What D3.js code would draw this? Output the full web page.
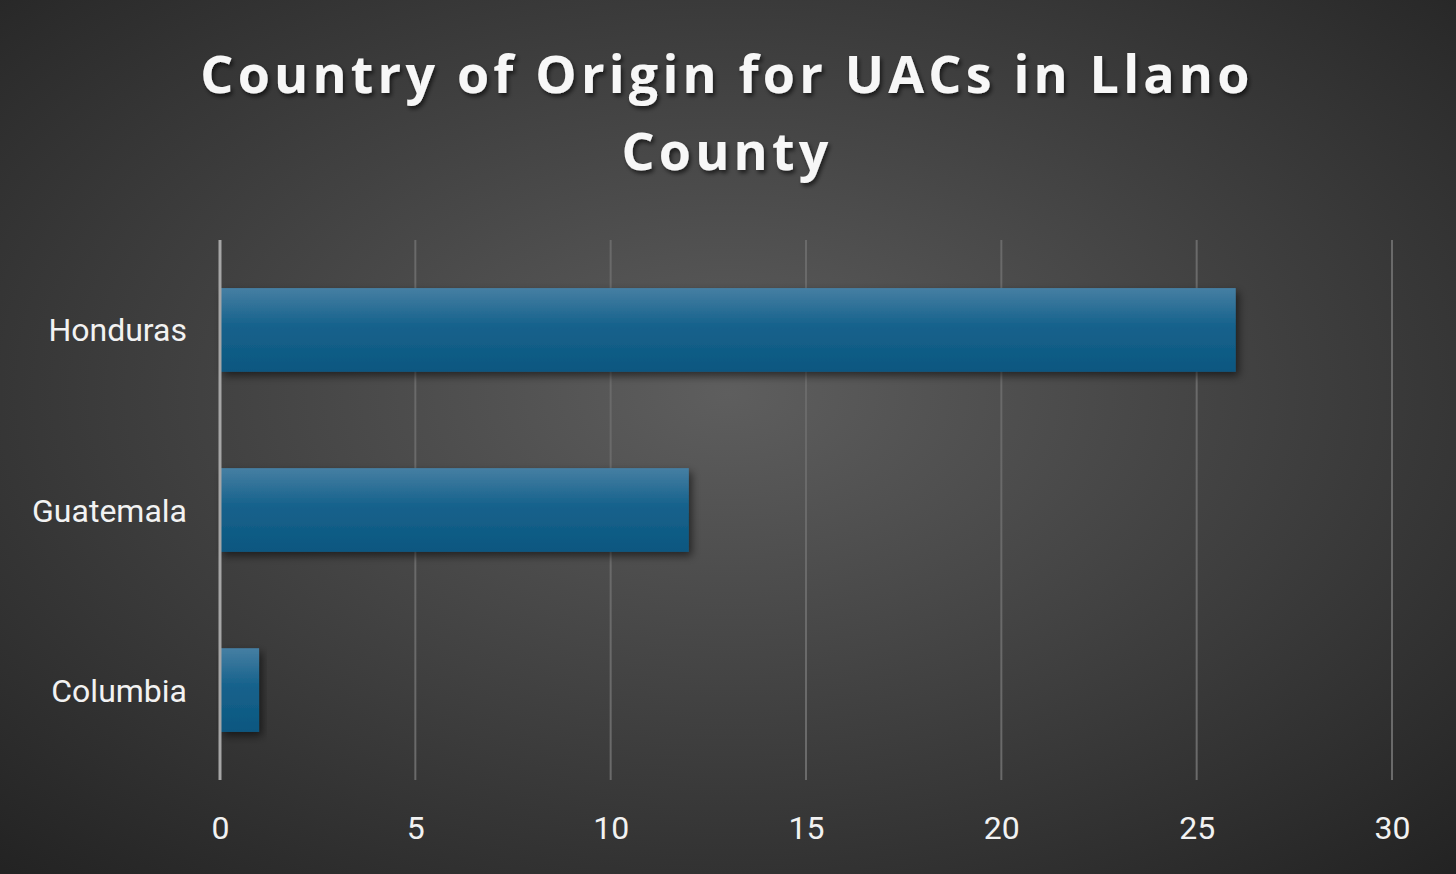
<!DOCTYPE html>
<html><head><meta charset="utf-8">
<script src="https://cdn.jsdelivr.net/npm/d3@7"></script>
<style>html,body{margin:0;padding:0;background:#333;}svg{display:block;}</style>
</head><body>
<script>
const categories = ["Honduras", "Guatemala", "Columbia"];
const values = [26, 12, 1];
const xTicks = [0, 5, 10, 15, 20, 25, 30];
const titleLines = ["Country of Origin for UACs in Llano", "County"];

const W = 1456, H = 874;
const svg = d3.select("body").append("svg").attr("width", W).attr("height", H);
const defs = svg.append("defs");
const rg = defs.append("radialGradient").attr("id","bg").attr("cx","50%").attr("cy","45%").attr("r","75%");
rg.append("stop").attr("offset","0%").attr("stop-color","#5e5e5e");
rg.append("stop").attr("offset","100%").attr("stop-color","#222");
const bg = defs.append("linearGradient").attr("id","bar").attr("x1",0).attr("x2",0).attr("y1",0).attr("y2",1);
bg.append("stop").attr("offset","0%").attr("stop-color","#467fa3");
bg.append("stop").attr("offset","45%").attr("stop-color","#16628c");
bg.append("stop").attr("offset","100%").attr("stop-color","#0c5780");
const sh = defs.append("filter").attr("id","sh").attr("x","-10%").attr("y","-20%").attr("width","130%").attr("height","160%");
sh.append("feDropShadow").attr("dx",3).attr("dy",4).attr("stdDeviation",4).attr("flood-color","#000").attr("flood-opacity",0.55);
const tsh = defs.append("filter").attr("id","tsh").attr("x","-5%").attr("y","-20%").attr("width","110%").attr("height","160%");
tsh.append("feDropShadow").attr("dx",2).attr("dy",3).attr("stdDeviation",2).attr("flood-color","#000").attr("flood-opacity",0.6);

svg.append("rect").attr("width",W).attr("height",H).attr("fill","url(#bg)");

const title = svg.append("text").attr("text-anchor","middle").attr("fill","#f7f7f7")
  .attr("font-family","'Open Sans', 'Liberation Sans', sans-serif").attr("font-weight",700)
  .attr("font-size",52).attr("letter-spacing",4.2).attr("filter","url(#tsh)");
titleLines.forEach((t,i)=>title.append("tspan").attr("x",727).attr("y",93+i*77).text(t));

const x = d3.scaleLinear().domain([0,30]).range([220,1392]);
const y = d3.scaleBand().domain(categories).range([240,780]).paddingInner(0.535).paddingOuter(0.267);

const grid = svg.append("g");
grid.selectAll("line").data(xTicks.filter(d=>d>0)).join("line")
  .attr("x1",d=>x(d)).attr("x2",d=>x(d)).attr("y1",240).attr("y2",780)
  .attr("stroke","#6a6a6a").attr("stroke-width",2);

svg.append("g").selectAll("rect").data(categories).join("rect")
  .attr("x",x(0)).attr("y",d=>y(d)).attr("height",y.bandwidth())
  .attr("width",(d,i)=>x(values[i])-x(0))
  .attr("fill","url(#bar)").attr("filter","url(#sh)");

svg.append("line").attr("x1",x(0)).attr("x2",x(0)).attr("y1",240).attr("y2",780)
  .attr("stroke","#a6a6a6").attr("stroke-width",3);

const xa = svg.append("g").attr("transform","translate(0,827)")
  .call(d3.axisBottom(x).tickValues(xTicks).tickSize(0).tickPadding(0));
xa.select(".domain").remove();
xa.selectAll("text").attr("fill","#f2f2f2").attr("font-size",32)
  .attr("font-family","Roboto, 'Noto Sans', sans-serif").attr("dy","0.36em");

const ya = svg.append("g").attr("transform","translate(187,0)")
  .call(d3.axisLeft(y).tickSize(0).tickPadding(0));
ya.select(".domain").remove();
ya.selectAll("text").attr("fill","#f2f2f2").attr("font-size",32)
  .attr("font-family","Roboto, 'Noto Sans', sans-serif").attr("dy","0.36em");
</script>
</body></html>
